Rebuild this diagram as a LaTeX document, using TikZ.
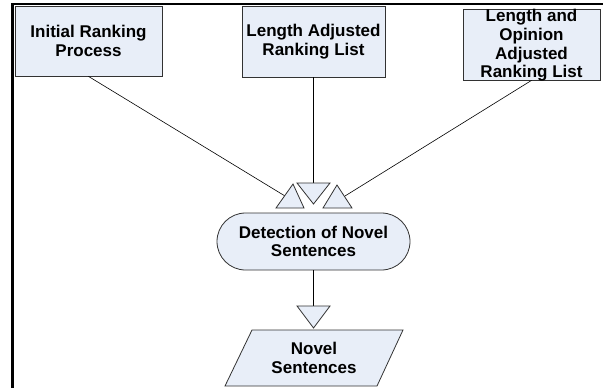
\documentclass[tikz,border=0pt]{standalone}
\usepackage{fontspec}
\setmainfont{Liberation Sans}
\definecolor{boxfill}{RGB}{232,238,248}
\definecolor{edge}{RGB}{50,50,50}
\begin{document}
\begin{tikzpicture}[x=1pt,y=-1pt,
  lbl/.style={align=center, font=\bfseries\fontsize{17}{18.6}\selectfont, inner sep=0pt, text=black},
  boxnode/.style={draw=edge, fill=boxfill, line width=0.8pt, inner sep=0pt},
  shapeln/.style={draw=edge, fill=boxfill, line width=0.8pt, line join=miter},
  conn/.style={draw=black, line width=0.6pt},
  frame/.style={line width=2.5pt, draw=black}]
\useasboundingbox (0,0) rectangle (603,388);
% frame
\draw[frame] (12.5,388) -- (12.5,4) -- (603,4);
% top boxes
\node[boxnode, minimum width=147pt, minimum height=70pt] (b1) at (88.5,41) {};
\node[lbl] (t1) at (b1.center) {Initial Ranking\\Process};
\node[boxnode, minimum width=143pt, minimum height=71pt] (b2) at (313.5,41.5) {};
\node[lbl] (t2) at (b2.center) {Length Adjusted\\Ranking List};
\node[boxnode, minimum width=137pt, minimum height=71pt] (b3) at (531.5,44.5) {};
\node[lbl] (t3) at (531.5,45.5) {Length and\\Opinion\\Adjusted\\Ranking List};
% arrowhead triangle points
\coordinate (la) at (285,196);
\coordinate (ma) at (313.5,183);
\coordinate (ra) at (345,196);
% connectors
\draw[conn] (b1.south) -- (la);
\draw[conn] (b2.south) -- (ma);
\draw[conn] (b3.south) -- (ra);
% triangles
\path[shapeln] (276,208) -- (293,184) -- (304,208) -- cycle;
\path[shapeln] (297,183) -- (330,183) -- (313.5,204) -- cycle;
\path[shapeln] (323,208) -- (337,185) -- (352,208) -- cycle;
% oval
\node[boxnode, minimum width=193pt, minimum height=57pt, rounded corners=28.5pt] (ov) at (313.5,241.5) {};
\node[lbl] (tov) at (ov.center) {Detection of Novel\\Sentences};
% connector to output
\coordinate (bt) at (313.5,306);
\draw[conn] (ov.south) -- (bt);
\path[shapeln] (297,306) -- (330,306) -- (313.5,328) -- cycle;
% parallelogram
\path[shapeln] (252,330) -- (403,330) -- (377,386) -- (225,386) -- cycle;
\node[lbl] (tp) at (314,358) {Novel\\Sentences};
\end{tikzpicture}
\end{document}
